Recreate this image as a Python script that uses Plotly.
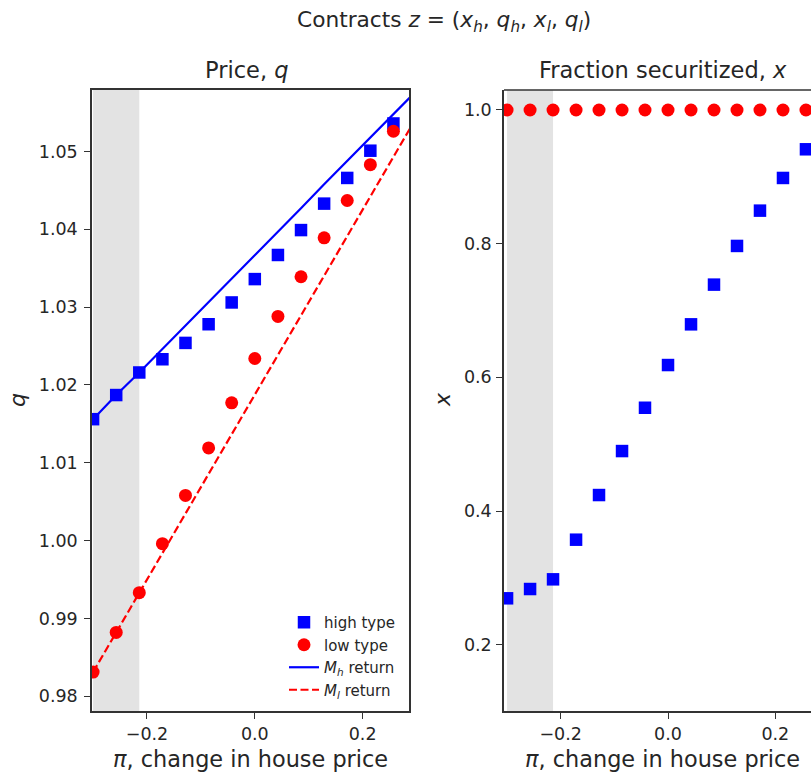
import plotly.graph_objects as go

# ---- data ----
pi_vals = [-0.3, -0.2571, -0.2143, -0.1714, -0.1286, -0.0857, -0.0429,
           0.0, 0.0429, 0.0857, 0.1286, 0.1714, 0.2143, 0.2571]
pi_line = [-0.3, -0.2571, -0.2143, -0.1714, -0.1286, -0.0857, -0.0429,
           0.0, 0.0429, 0.0857, 0.1286, 0.1714, 0.2143, 0.2571, 0.3]

q_high = [1.0156, 1.0187, 1.0216, 1.0233, 1.0254, 1.0278, 1.0306,
          1.0336, 1.0367, 1.0399, 1.0433, 1.0466, 1.0501, 1.0536]
q_low = [0.9831, 0.9882, 0.9933, 0.9996, 1.0058, 1.0119, 1.0177,
         1.0234, 1.0288, 1.0339, 1.0389, 1.0437, 1.0483, 1.0526]

M_h = [1.0156, 1.0187, 1.0216, 1.0246, 1.0277, 1.0307, 1.0337, 1.0367,
       1.0397, 1.0427, 1.0458, 1.0488, 1.0518, 1.0548, 1.0578]
M_l = [0.9831, 0.9882, 0.9933, 0.9984, 1.0035, 1.0086, 1.0137, 1.0188,
       1.0239, 1.0290, 1.0341, 1.0391, 1.0442, 1.0493, 1.0544]

x_high = [0.2694, 0.2833, 0.2978, 0.3571, 0.4239, 0.4897, 0.5545,
          0.6184, 0.6793, 0.7387, 0.7966, 0.8494, 0.8983, 0.9412]
x_low = [1.0, 1.0, 1.0, 1.0, 1.0, 1.0, 1.0,
         1.0, 1.0, 1.0, 1.0, 1.0, 1.0, 1.0]

shade_span = [-0.3, -0.2143]

q_ticks = [0.98, 0.99, 1.00, 1.01, 1.02, 1.03, 1.04, 1.05]
x_ticks = [0.2, 0.4, 0.6, 0.8, 1.0]
pi_ticks = [-0.2, 0.0, 0.2]

# ---- layout geometry (pixels) ----
W, H = 811, 774
L_left, L_right = 92, 409
R_left, R_right = 504, 811
P_top, P_bot = 90, 711

def px(xp):
    return xp / W

def py(yp):
    return 1 - yp / H

TXT = "#262626"
AXC = "#333333"
FONT = "DejaVu Sans"
BLUE = "#0000ff"
RED = "#ff0000"

fig = go.Figure()

# left panel
fig.add_trace(go.Scatter(x=pi_vals, y=q_high, mode="markers", name="high type",
                         marker=dict(symbol="square", size=12.5, color=BLUE),
                         xaxis="x", yaxis="y", legendrank=1))
fig.add_trace(go.Scatter(x=pi_vals, y=q_low, mode="markers", name="low type",
                         marker=dict(symbol="circle", size=13, color=RED),
                         xaxis="x", yaxis="y", legendrank=2))
fig.add_trace(go.Scatter(x=pi_line, y=M_h, mode="lines",
                         name="<i>M</i><sub><i>h</i></sub> return",
                         line=dict(color=BLUE, width=2.2),
                         xaxis="x", yaxis="y", legendrank=3))
fig.add_trace(go.Scatter(x=pi_line, y=M_l, mode="lines",
                         name="<i>M</i><sub><i>l</i></sub> return",
                         line=dict(color=RED, width=2.2, dash="8px,3.5px"),
                         xaxis="x", yaxis="y", legendrank=4))

# right panel
fig.add_trace(go.Scatter(x=pi_vals, y=x_high, mode="markers", name="high type",
                         marker=dict(symbol="square", size=12.5, color=BLUE),
                         xaxis="x2", yaxis="y2", showlegend=False))
fig.add_trace(go.Scatter(x=pi_vals, y=x_low, mode="markers", name="low type",
                         marker=dict(symbol="circle", size=13, color=RED),
                         xaxis="x2", yaxis="y2", showlegend=False))

# shaded regions
for xr, yr in (("x", "y domain"), ("x2", "y2 domain")):
    fig.add_shape(type="rect", xref=xr, yref=yr, x0=shade_span[0], x1=shade_span[1],
                  y0=0, y1=1, fillcolor="#e3e3e3", line=dict(width=0), layer="below")

# top border of right panel (right side is cut off in the reference)
fig.add_shape(type="line", xref="x2 domain", yref="y2 domain", x0=0, x1=1, y0=1, y1=1,
              line=dict(color=AXC, width=1.5))

axis_common = dict(showgrid=False, zeroline=False, showline=True, linecolor=AXC,
                   linewidth=1.5, ticks="outside", ticklen=6, tickwidth=1.2,
                   tickcolor=AXC, tickfont=dict(family=FONT, size=17.5, color=TXT))

fig.update_layout(
    width=W, height=H,
    margin=dict(l=0, r=0, t=0, b=0),
    paper_bgcolor="white", plot_bgcolor="white",
    font=dict(family=FONT, color=TXT),
    xaxis=dict(domain=[px(L_left), px(L_right)], range=[-0.302, 0.286],
               tickvals=pi_ticks, tickformat=".1f", mirror=True, anchor="y",
               **axis_common),
    yaxis=dict(domain=[py(P_bot), py(P_top)], range=[0.9781, 1.0579],
               tickvals=q_ticks, tickformat=".2f", mirror=True, anchor="x",
               ticklabelstandoff=3, **axis_common),
    xaxis2=dict(domain=[px(R_left), 1.0], range=[-0.3057, 0.2665],
                tickvals=pi_ticks, tickformat=".1f", anchor="y2",
                **axis_common),
    yaxis2=dict(domain=[py(P_bot), py(P_top)], range=[0.1008, 1.0299],
                tickvals=x_ticks, tickformat=".1f", anchor="x2",
                ticklabelstandoff=1, **axis_common),
    legend=dict(x=px(284), y=py(606), xanchor="left", yanchor="top",
                bgcolor="rgba(255,255,255,0)", borderwidth=0,
                font=dict(family=FONT, size=15, color=TXT),
                traceorder="normal"),
    showlegend=True,
)

annots = [
    dict(text="Contracts <i>z</i> = (<i>x</i><sub><i>h</i></sub>, <i>q</i><sub><i>h</i></sub>, "
              "<i>x</i><sub><i>l</i></sub>, <i>q</i><sub><i>l</i></sub>)",
         x=px(444), y=py(21), size=21.7),
    dict(text="Price, <i>q</i>", x=px(247), y=py(70), size=22.5),
    dict(text="Fraction securitized, <i>x</i>", x=px(662.5), y=py(70), size=22.5),
    dict(text="<i>π</i>, change in house price", x=px(250), y=py(759), size=22.4),
    dict(text="<i>π</i>, change in house price", x=px(662.5), y=py(759), size=22.4),
]
for a in annots:
    fig.add_annotation(text=a["text"], x=a["x"], y=a["y"], xref="paper", yref="paper",
                       xanchor="center", yanchor="middle", showarrow=False,
                       font=dict(family=FONT, size=a["size"], color=TXT))

for xp_, txt in ((18, "<i>q</i>"), (443, "<i>x</i>")):
    fig.add_annotation(text=txt, x=px(xp_), y=py(400), xref="paper", yref="paper",
                       xanchor="center", yanchor="middle", showarrow=False, textangle=-90,
                       font=dict(family=FONT, size=22, color=TXT))

fig.write_html("out.html",
               config={"displayModeBar": False},
               post_script="document.body.style.margin='0px';"
                           "document.body.style.overflow='hidden';")
